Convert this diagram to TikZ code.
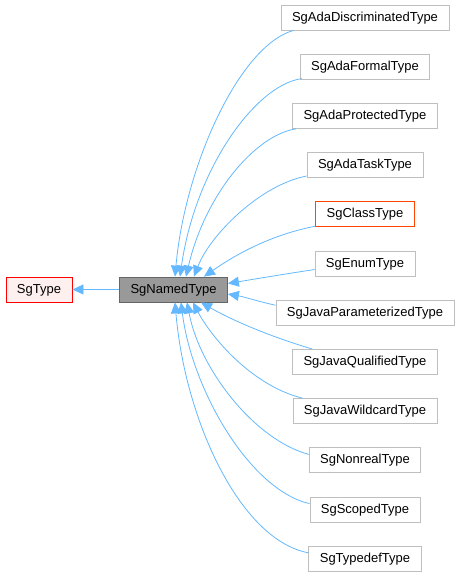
\documentclass[tikz,border=0pt]{standalone}
\usepackage{fontspec}
\setmainfont{Liberation Sans}
\usetikzlibrary{arrows.meta}
\definecolor{inhedge}{HTML}{63B8FF}
\definecolor{clsedge}{HTML}{BFBFBF}
\definecolor{baseedge}{HTML}{FF0000}
\definecolor{basefill}{HTML}{FFF0F0}
\definecolor{hidedge}{HTML}{FF4500}
\definecolor{curfill}{HTML}{999999}
\definecolor{curedge}{HTML}{666666}

\begin{document}
\begin{tikzpicture}[x=1pt, y=-1pt,
  cls/.style={rectangle, draw=clsedge, fill=white, line width=0.8pt,
              minimum height=25pt, inner xsep=11pt, text height=9.5pt, text depth=2.5pt,
              font=\fontsize{13}{15}\selectfont},
  base/.style={cls, draw=baseedge, fill=basefill},
  cur/.style={cls, draw=curedge, fill=curfill},
  hid/.style={cls, draw=hidedge},
  inh/.style={draw=inhedge, line width=0.8pt, -{Triangle[length=11pt, width=10pt]}},
]
\useasboundingbox (0,0) rectangle (460,579);
% ---- base and current class ----
\node[base] (sgtype) at (39, 289.5) {SgType};
\node[cur] (named) at (173.5, 289.5) {SgNamedType};
\draw[inh] (named.west) -- (sgtype.east);
% ---- derived classes (right column) ----
\node[cls] (adadisc) at (365, 17.5) {SgAdaDiscriminatedType};
\node[cls] (adaformal) at (365, 66.7) {SgAdaFormalType};
\node[cls] (adaprot) at (365, 115.9) {SgAdaProtectedType};
\node[cls] (adatask) at (365, 165.1) {SgAdaTaskType};
\node[hid] (classtype) at (365, 214.3) {SgClassType};
\node[cls] (enumtype) at (365, 263.5) {SgEnumType};
\node[cls] (javaparam) at (365, 312.7) {SgJavaParameterizedType};
\node[cls] (javaqual) at (365, 361.9) {SgJavaQualifiedType};
\node[cls] (javawild) at (365, 411.1) {SgJavaWildcardType};
\node[cls] (nonreal) at (365, 460.3) {SgNonrealType};
\node[cls] (scoped) at (365, 509.5) {SgScopedType};
\node[cls] (typedef) at (365, 558.7) {SgTypedefType};
% ---- inheritance edges, upper half (end on top of SgNamedType) ----
\draw[inh] ([xshift=13pt]adadisc.south west) .. controls (240,45) and (185,165) .. ([xshift=1.5pt]named.north);
\draw[inh] ([xshift=2pt,yshift=1pt]adaformal.south west) .. controls (255,85) and (195,170) .. ([xshift=6.5pt]named.north);
\draw[inh] ([xshift=4pt]adaprot.south west) .. controls (255,135) and (205,195) .. ([xshift=12.5pt]named.north);
\draw[inh] ([yshift=2pt]adatask.south west) .. controls (260,185) and (210,235) .. ([xshift=20.5pt]named.north);
\draw[inh] ([yshift=1pt]classtype.south west) .. controls (270,235) and (235,255) .. ([xshift=30.5pt]named.north);
% ---- inheritance edges, middle (end on right side) ----
\draw[inh] ([yshift=-6pt]enumtype.west) .. controls (285,274) and (255,279) .. ([yshift=6pt]named.east);
\draw[inh] ([yshift=7.5pt]javaparam.west) .. controls (260,302) and (245,297) .. ([yshift=-4.5pt]named.east);
% ---- inheritance edges, lower half (end under SgNamedType) ----
\draw[inh] ([xshift=20pt]javaqual.north west) .. controls (265,335) and (228,318) .. ([xshift=27.5pt]named.south);
\draw[inh] ([xshift=10pt]javawild.north west) .. controls (250,385) and (210,335) .. ([xshift=19.5pt]named.south);
\draw[inh] ([yshift=-7pt]nonreal.north west) .. controls (255,440) and (200,370) .. ([xshift=13.5pt]named.south);
\draw[inh] ([yshift=-7pt]scoped.north west) .. controls (250,490) and (192,390) .. ([xshift=7.5pt]named.south);
\draw[inh] ([yshift=-7pt]typedef.north west) .. controls (240,540) and (185,420) .. ([xshift=1.5pt]named.south);
\end{tikzpicture}
\end{document}
